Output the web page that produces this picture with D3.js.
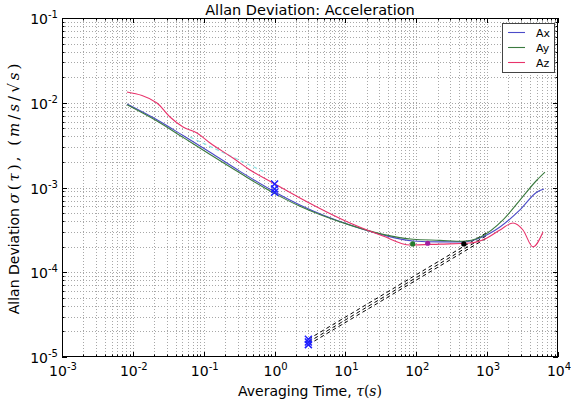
<!DOCTYPE html>
<html>
<head>
<meta charset="utf-8">
<script src="https://cdn.jsdelivr.net/npm/d3@7"></script>
<style>
    body { margin: 0; background: #fff; }
    text { font-family: "DejaVu Sans", sans-serif; fill: #000; }
</style>
</head>
<body>
<div id="container"></div>
<script>
// data
var tauAx   = [0.00826, 0.0219, 0.0511, 0.123, 0.325, 0.95, 2.28, 11.6, 33.9, 89.8, 216, 456, 792, 1518, 2904, 5050, 6340];
var sigmaAx = [0.00966, 0.0063, 0.0041, 0.0026, 0.00155, 0.00091, 0.000622, 0.000361, 0.000275, 0.000234, 0.000228, 0.000228, 0.000254, 0.000342, 0.000543, 0.000885, 0.00096];

var tauAy   = [0.00826, 0.0219, 0.0511, 0.123, 0.325, 0.95, 2.28, 11.6, 33.9, 89.8, 216, 456, 792, 1675, 2904, 5050, 6546];
var sigmaAy = [0.0095, 0.0061, 0.0039, 0.00245, 0.00148, 0.00087, 0.0006, 0.00036, 0.00028, 0.000245, 0.000238, 0.000232, 0.000258, 0.000414, 0.000711, 0.001226, 0.00152];

var tauAz   = [0.00826, 0.0219, 0.0334, 0.0511, 0.0803, 0.123, 0.259, 0.45, 0.95, 2.28, 11.6, 33.9, 81.5, 216, 573, 995, 1518, 2316, 3205, 4436, 6138];
var sigmaAz = [0.0134, 0.00993, 0.00679, 0.00518, 0.0044, 0.00335, 0.00223, 0.00161, 0.00113, 0.000752, 0.000381, 0.000268, 0.00021, 0.000215, 0.000221, 0.000254, 0.000315, 0.000381, 0.000315, 0.000199, 0.000298];

var seriesNames = ["Ax", "Ay", "Az"];

// white noise markers at tau = 1, random walk markers at tau = 3
var nTau = [1, 1, 1];
var nSigma = [0.0011, 0.00096, 0.00088];
var kTau = [3, 3, 3];
var kSigma = [1.62e-5, 1.5e-5, 1.4e-5];
var kEndTau = [1050, 1050, 1050];

// bias instability points
var bTau = [89, 145, 468];
var bSigma = [0.000216, 0.00022, 0.000216];

// faint fit segment
var fitTau = [0.064, 0.78];
var fitSigma = [0.00394, 0.00148];

var xTicks = [1e-3, 1e-2, 1e-1, 1e0, 1e1, 1e2, 1e3, 1e4];
var xTickExp = ["-3", "-2", "-1", "0", "1", "2", "3", "4"];
var yTicks = [1e-1, 1e-2, 1e-3, 1e-4, 1e-5];
var yTickExp = ["-1", "-2", "-3", "-4", "-5"];

var W = 571, H = 407;
var padding = { top: 18, right: 13, bottom: 50, left: 62 };
var colors = ["#4b4bc8", "#3b7a3f", "#e8336b"];

var svg = d3.select("#container").append("svg")
    .attr("width", W)
    .attr("height", H);

var x = d3.scaleLog().domain([1e-3, 1e4]).range([padding.left, W - padding.right]);
var y = d3.scaleLog().domain([1e-5, 1e-1]).range([H - padding.bottom, padding.top]);

var x0 = x.range()[0], x1 = x.range()[1];
var y0 = y.range()[1], y1 = y.range()[0];

// grid, both major and minor
var xGrid = [], yGrid = [];
for (var d = -3; d < 4; d++) for (var m = 1; m < 10; m++) xGrid.push(m * Math.pow(10, d));
for (var d = -5; d < -1; d++) for (var m = 1; m < 10; m++) yGrid.push(m * Math.pow(10, d));

var grid = svg.append("g").attr("class", "grid");
grid.selectAll("line.vx").data(xGrid.slice(1)).enter().append("line")
    .attr("x1", d => Math.round(x(d)) + 0.5).attr("x2", d => Math.round(x(d)) + 0.5)
    .attr("y1", y0).attr("y2", y1)
    .style("stroke", "#a8a8a8").style("stroke-width", 1).style("stroke-dasharray", "1,2");
grid.selectAll("line.hy").data(yGrid.slice(1)).enter().append("line")
    .attr("y1", d => Math.round(y(d)) + 0.5).attr("y2", d => Math.round(y(d)) + 0.5)
    .attr("x1", x0).attr("x2", x1)
    .style("stroke", "#a8a8a8").style("stroke-width", 1).style("stroke-dasharray", "1,2");

// ticks inside on all sides
var ticks = svg.append("g");
xGrid.concat([1e4]).forEach(function (v) {
    var major = Math.abs(Math.log10(v) - Math.round(Math.log10(v))) < 1e-9;
    var len = major ? 5 : 2.5;
    var px = Math.round(x(v)) + 0.5;
    ticks.append("line").attr("x1", px).attr("x2", px).attr("y1", y1).attr("y2", y1 - len).style("stroke", "#000");
    ticks.append("line").attr("x1", px).attr("x2", px).attr("y1", y0).attr("y2", y0 + len).style("stroke", "#000");
});
yGrid.concat([1e-1]).forEach(function (v) {
    var major = Math.abs(Math.log10(v) - Math.round(Math.log10(v))) < 1e-9;
    var len = major ? 5 : 2.5;
    var py = Math.round(y(v)) + 0.5;
    ticks.append("line").attr("y1", py).attr("y2", py).attr("x1", x0).attr("x2", x0 + len).style("stroke", "#000");
    ticks.append("line").attr("y1", py).attr("y2", py).attr("x1", x1).attr("x2", x1 - len).style("stroke", "#000");
});

// tick labels
xTicks.forEach(function (v, i) {
    var t = svg.append("text")
        .attr("x", x(v) + 1)
        .attr("y", y1 + 19)
        .attr("text-anchor", "middle")
        .style("font-size", "14px");
    t.append("tspan").text("10");
    t.append("tspan").attr("dy", -6).style("font-size", "10px").text(xTickExp[i]);
});
yTicks.forEach(function (v, i) {
    var t = svg.append("text")
        .attr("x", x0 - 4)
        .attr("y", y(v) + 6)
        .attr("text-anchor", "end")
        .style("font-size", "14px");
    t.append("tspan").text("10");
    t.append("tspan").attr("dy", -6).style("font-size", "10px").text(yTickExp[i]);
});

svg.append("defs").append("clipPath").attr("id", "plotclip")
    .append("rect").attr("x", x0).attr("y", y0).attr("width", x1 - x0).attr("height", y1 - y0);

var plot = svg.append("g").attr("clip-path", "url(#plotclip)");

var line = d3.line()
    .x(d => x(d[0]))
    .y(d => y(d[1]))
    .curve(d3.curveMonotoneX);

function pairs(a, b) { return a.map((v, i) => [v, b[i]]); }

// faint fit
plot.append("path")
    .attr("d", line(pairs(fitTau, fitSigma)))
    .style("fill", "none").style("stroke", "#8fe3e3").style("stroke-width", 1.2)
    .style("stroke-dasharray", "4,3");

// random walk lines
kTau.forEach(function (t, i) {
    var k = kSigma[i] / Math.sqrt(t);
    plot.append("line")
        .attr("x1", x(t)).attr("y1", y(kSigma[i]))
        .attr("x2", x(kEndTau[i])).attr("y2", y(k * Math.sqrt(kEndTau[i])))
        .style("stroke", "#000").style("stroke-width", 1)
        .style("stroke-dasharray", "4,3");
});

var series = [pairs(tauAx, sigmaAx), pairs(tauAy, sigmaAy), pairs(tauAz, sigmaAz)];
series.forEach(function (s, i) {
    plot.append("path")
        .attr("d", line(s))
        .style("fill", "none")
        .style("stroke", colors[i])
        .style("stroke-width", 1.1);
});

// x markers
function cross(px, py) {
    var r = 3.5;
    plot.append("path")
        .attr("d", `M${px - r},${py - r}L${px + r},${py + r}M${px - r},${py + r}L${px + r},${py - r}`)
        .style("stroke", "#1f1fff").style("stroke-width", 1.5).style("fill", "none");
}
nTau.forEach((t, i) => cross(x(t), y(nSigma[i])));
kTau.forEach((t, i) => cross(x(t), y(kSigma[i])));

// bias instability dots
var dotColors = ["#237a2b", "#a01ea0", "#000"];
bTau.forEach(function (t, i) {
    plot.append("circle")
        .attr("cx", x(t)).attr("cy", y(bSigma[i])).attr("r", 2.6)
        .style("fill", dotColors[i]);
});

// frame
svg.append("rect")
    .attr("x", x0 + 0.5).attr("y", y0 + 0.5)
    .attr("width", x1 - x0 - 1).attr("height", y1 - y0 - 1)
    .style("fill", "none").style("stroke", "#000").style("stroke-width", 1);

// legend
var legend = svg.append("g").attr("transform", "translate(502,23)");
legend.append("rect")
    .attr("x", 0.5).attr("y", 0.5).attr("width", 52).attr("height", 49)
    .style("fill", "#fff").style("stroke", "#444").style("stroke-width", 1);
seriesNames.forEach(function (n, i) {
    legend.append("line")
        .attr("x1", 6).attr("x2", 23)
        .attr("y1", 9.5 + i * 15).attr("y2", 9.5 + i * 15)
        .style("stroke", colors[i]).style("stroke-width", 1.1);
    legend.append("text")
        .attr("x", 34).attr("y", 13.5 + i * 15)
        .style("font-size", "11px")
        .text(n);
});

// title and axis labels
svg.append("text")
    .attr("x", (x0 + x1) / 2).attr("y", 14.5)
    .attr("text-anchor", "middle")
    .style("font-size", "14.5px")
    .text("Allan Deviation: Acceleration");

var xl = svg.append("text")
    .attr("x", (x0 + x1) / 2).attr("y", 396)
    .attr("text-anchor", "middle")
    .style("font-size", "14px");
xl.append("tspan").text("Averaging Time, ");
xl.append("tspan").style("font-family", "DejaVu Serif").style("font-style", "italic").text("τ");
xl.append("tspan").style("font-family", "DejaVu Serif").text("(");
xl.append("tspan").style("font-family", "DejaVu Serif").style("font-style", "italic").text("s");
xl.append("tspan").style("font-family", "DejaVu Serif").text(")");

var yl = svg.append("text")
    .attr("transform", `translate(19,${(y0 + y1) / 2}) rotate(-90)`)
    .attr("text-anchor", "middle")
    .style("font-size", "14px");
yl.append("tspan").text("Allan Deviation ");
var mathParts = [["σ", true], ["(", false], ["τ", true], ["), ", false], ["(", false], ["m", true], ["/", false], ["s", true], ["/", false], ["√", false], ["s", true], [")", false]];
mathParts.forEach(function (p) {
    yl.append("tspan")
        .style("font-family", "DejaVu Serif")
        .style("font-style", p[1] ? "italic" : "normal")
        .style("font-size", "15px")
        .style("letter-spacing", "3px")
        .text(p[0]);
});
</script>
</body>
</html>
